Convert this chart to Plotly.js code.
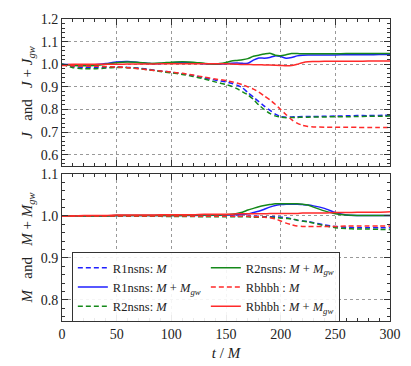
<!DOCTYPE html>
<html>
<head>
<meta charset="utf-8">
<script src="https://cdn.plot.ly/plotly-3.0.1.min.js"></script>
<style>
  html, body { margin: 0; padding: 0; background: #fff; }
  #plot { width: 411px; height: 366px; }
</style>
</head>
<body>
<div id="plot"></div>
<script>
// time grid (t / M)
var t = [0,10,20,30,40,50,60,70,80,90,100,110,120,130,140,150,155,160,165,170,175,180,185,190,195,200,205,210,215,220,225,230,240,250,260,270,280,290,300];

// top panel: J (dashed) and J + J_gw (solid)
var J_R1 = [1.0,0.99,0.986,0.985,0.986,0.988,0.986,0.983,0.977,0.97,0.965,0.958,0.95,0.94,0.93,0.922,0.916,0.908,0.896,0.875,0.855,0.835,0.815,0.797,0.78,0.769,0.766,0.767,0.768,0.769,0.769,0.769,0.77,0.771,0.772,0.773,0.773,0.774,0.775];
var J_R2 = [1.0,0.985,0.98,0.98,0.983,0.986,0.985,0.981,0.975,0.968,0.962,0.955,0.946,0.935,0.922,0.91,0.903,0.892,0.878,0.865,0.845,0.82,0.8,0.783,0.772,0.766,0.764,0.765,0.765,0.766,0.766,0.767,0.767,0.768,0.768,0.769,0.77,0.77,0.771];
var J_bh = [0.995,0.993,0.992,0.991,0.99,0.988,0.985,0.98,0.975,0.97,0.965,0.96,0.952,0.943,0.935,0.928,0.923,0.917,0.91,0.9,0.89,0.877,0.86,0.843,0.823,0.8,0.777,0.755,0.74,0.73,0.725,0.723,0.722,0.722,0.722,0.721,0.721,0.721,0.721];
var Jgw_R1 = [1.0,0.998,0.997,0.998,1.003,1.01,1.012,1.008,1.003,1.003,1.007,1.009,1.007,1.002,1.0,1.002,1.004,1.005,1.004,1.004,1.018,1.028,1.027,1.03,1.037,1.034,1.027,1.03,1.037,1.04,1.041,1.041,1.041,1.041,1.042,1.042,1.042,1.043,1.043];
var Jgw_R2 = [1.0,0.995,0.993,0.995,1.0,1.007,1.01,1.008,1.004,1.005,1.009,1.011,1.009,1.004,1.001,1.008,1.014,1.017,1.02,1.025,1.035,1.04,1.045,1.049,1.04,1.038,1.042,1.047,1.047,1.046,1.046,1.046,1.046,1.046,1.047,1.047,1.047,1.047,1.047];
var Jgw_bh = [0.997,1.0,1.0,1.0,1.0,1.0,1.001,1.001,1.001,1.002,1.002,1.002,1.002,1.002,1.002,1.002,1.001,1.0,0.999,0.999,0.998,0.998,0.997,0.997,0.996,0.995,0.993,0.994,1.0,1.007,1.011,1.012,1.013,1.013,1.013,1.013,1.014,1.014,1.014];

// bottom panel: M (dashed) and M + M_gw (solid)
var M_R1 = [1.0,1.0,1.0,1.0,0.9995,0.9995,0.9995,0.9995,0.9995,0.999,0.999,0.999,0.999,0.999,0.999,0.999,0.999,0.999,0.999,0.999,0.999,0.999,0.998,0.998,0.998,0.997,0.996,0.993,0.99,0.988,0.987,0.984,0.979,0.975,0.973,0.972,0.972,0.972,0.972];
var M_R2 = [1.0,1.0,0.9995,0.9995,0.9995,0.999,0.999,0.999,0.999,0.999,0.9985,0.9985,0.9985,0.998,0.998,0.998,0.998,0.998,0.998,0.998,0.997,0.997,0.997,0.997,0.996,0.995,0.994,0.993,0.99,0.988,0.986,0.983,0.977,0.972,0.97,0.969,0.969,0.968,0.968];
var M_bh = [1.0,1.0,1.0,1.0,1.0,1.0,1.0,1.0,1.0,1.0,1.0,1.0,0.9995,0.9995,0.9995,0.9995,0.999,0.999,0.999,0.999,0.998,0.998,0.997,0.996,0.993,0.988,0.983,0.979,0.976,0.975,0.975,0.975,0.975,0.975,0.976,0.976,0.976,0.976,0.976];
var Mgw_R1 = [1.0,1.0,1.0,1.0,1.0,1.001,1.001,1.001,1.001,1.001,1.001,1.001,1.001,1.002,1.002,1.002,1.002,1.003,1.004,1.005,1.008,1.011,1.016,1.021,1.025,1.027,1.028,1.028,1.028,1.027,1.026,1.024,1.018,1.008,1.002,1.001,1.001,1.001,1.001];
var Mgw_R2 = [1.0,1.0,1.0,1.0,1.0,1.001,1.001,1.001,1.001,1.001,1.001,1.001,1.002,1.002,1.002,1.003,1.004,1.006,1.009,1.014,1.018,1.022,1.025,1.027,1.029,1.029,1.029,1.029,1.029,1.028,1.026,1.021,1.012,1.005,1.002,1.001,1.001,1.001,1.001];
var Mgw_bh = [1.0,1.0,1.001,1.001,1.001,1.002,1.002,1.002,1.002,1.003,1.003,1.003,1.003,1.004,1.004,1.004,1.004,1.005,1.005,1.005,1.005,1.005,1.005,1.006,1.006,1.006,1.006,1.006,1.006,1.007,1.007,1.007,1.007,1.008,1.008,1.009,1.009,1.009,1.01];

var blue = '#1f1fff', green = '#15891a', red = '#ff2a2a';
var dashed = '5px,3px';
var FONT = 'Liberation Serif';

function line(y, color, dash, yaxis, name, rank) {
  return {
    x: t, y: y, type: 'scatter', mode: 'lines',
    xaxis: yaxis === 'y2' ? 'x2' : 'x', yaxis: yaxis,
    line: {color: color, width: 1.5, dash: dash ? dashed : 'solid', shape: 'spline', smoothing: 0.6},
    name: name || '', showlegend: !!name, legendrank: rank || 1000
  };
}

var data = [
  line(J_R1, blue, true, 'y2'),
  line(Jgw_R1, blue, false, 'y2'),
  line(J_R2, green, true, 'y2'),
  line(Jgw_R2, green, false, 'y2'),
  line(J_bh, red, true, 'y2'),
  line(Jgw_bh, red, false, 'y2'),
  line(M_R1, blue, true, 'y', 'R1nsns: <i>M</i>', 1),
  line(Mgw_R1, blue, false, 'y', 'R1nsns: <i>M</i> + <i>M</i><sub><i>gw</i></sub>', 3),
  line(M_R2, green, true, 'y', 'R2nsns: <i>M</i>', 5),
  line(Mgw_R2, green, false, 'y', 'R2nsns: <i>M</i> + <i>M</i><sub><i>gw</i></sub>', 2),
  line(M_bh, red, true, 'y', 'Rbhbh : <i>M</i>', 4),
  line(Mgw_bh, red, false, 'y', 'Rbhbh : <i>M</i> + <i>M</i><sub><i>gw</i></sub>', 6)
];

var axisCommon = {
  showline: true, linecolor: '#333', linewidth: 1, mirror: 'allticks',
  ticks: 'inside', ticklen: 6, tickcolor: '#333',
  showgrid: true, gridcolor: '#999', griddash: 'dot', gridwidth: 1,
  zeroline: false, tickfont: {family: FONT, size: 14, color: '#222'}
};

var layout = {
  width: 411, height: 366,
  margin: {l: 62, r: 21, t: 19, b: 45},
  paper_bgcolor: '#fff', plot_bgcolor: '#fff',
  font: {family: FONT, color: '#222'},
  xaxis: Object.assign({}, axisCommon, {
    domain: [0, 1], anchor: 'y', range: [0, 300], dtick: 50,
    minor: {ticks: 'inside', ticklen: 3, dtick: 10, showgrid: false, tickcolor: '#333'},
    title: {text: '<i>t</i> / <i>M</i>', font: {family: FONT, size: 15}, standoff: 6}
  }),
  xaxis2: Object.assign({}, axisCommon, {
    domain: [0, 1], anchor: 'y2', range: [0, 300], dtick: 50, matches: 'x',
    showticklabels: false,
    minor: {ticks: 'inside', ticklen: 3, dtick: 10, showgrid: false, tickcolor: '#333'}
  }),
  yaxis: Object.assign({}, axisCommon, {
    domain: [0, 0.487], anchor: 'x', range: [0.75, 1.1], dtick: 0.1, tickformat: '.1f',
    minor: {ticks: 'inside', ticklen: 3, dtick: 0.02, showgrid: false, tickcolor: '#333'},
    title: {text: '<i>M</i>\u00a0\u00a0\u00a0and\u00a0\u00a0\u00a0<i>M</i> + <i>M</i><sub><i>gw</i></sub>', font: {family: FONT, size: 15}, standoff: 4}
  }),
  yaxis2: Object.assign({}, axisCommon, {
    domain: [0.513, 1], anchor: 'x2', range: [0.55, 1.2], dtick: 0.1, tickformat: '.1f',
    minor: {ticks: 'inside', ticklen: 3, dtick: 0.02, showgrid: false, tickcolor: '#333'},
    title: {text: '<i>J</i>\u00a0\u00a0\u00a0and\u00a0\u00a0\u00a0<i>J</i> + <i>J</i><sub><i>gw</i></sub>', font: {family: FONT, size: 15}, standoff: 4}
  }),
  legend: {
    x: 0.03, y: 0.228, xref: 'paper', yref: 'paper', xanchor: 'left', yanchor: 'top',
    orientation: 'h', entrywidth: 88, entrywidthmode: 'pixels',
    bgcolor: 'rgba(255,255,255,0.9)', bordercolor: '#333', borderwidth: 1,
    font: {family: FONT, size: 12.5, color: '#222'}, tracegroupgap: 0, itemwidth: 30
  },
  showlegend: true
};

Plotly.newPlot('plot', data, layout, {displayModeBar: false, staticPlot: true});
</script>
</body>
</html>
